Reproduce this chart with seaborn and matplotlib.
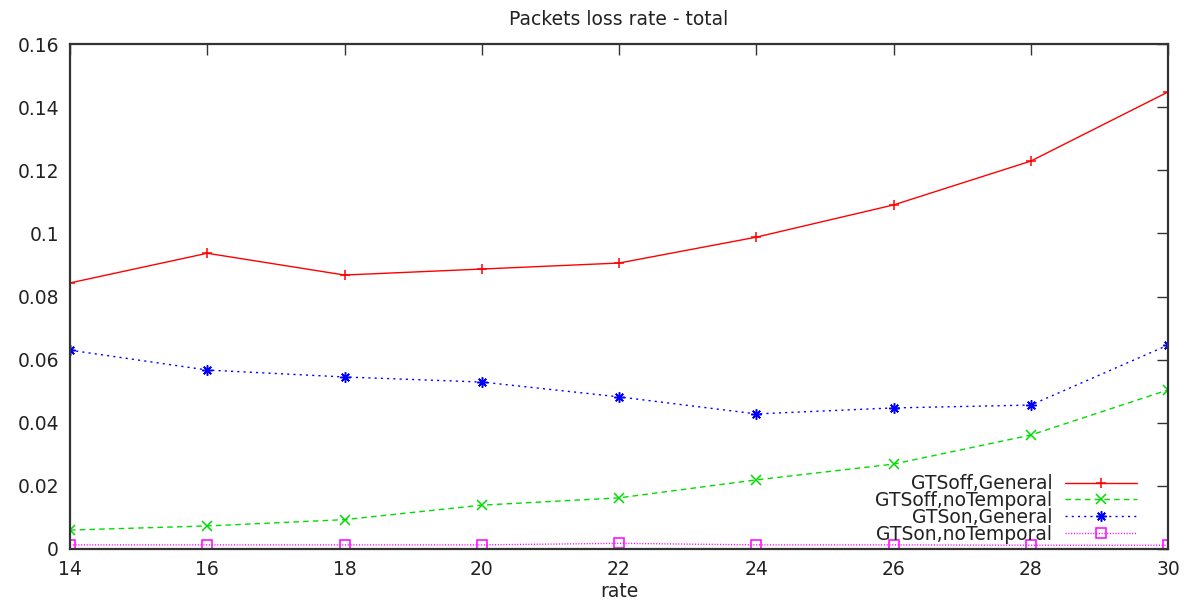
import matplotlib
matplotlib.use("Agg")
import matplotlib.pyplot as plt
import seaborn as sns
import pandas as pd

rate = [14, 16, 18, 20, 22, 24, 26, 28, 30]
gtsoff_general = [0.0843, 0.0937, 0.0868, 0.0887, 0.0906, 0.0988, 0.1090, 0.1229, 0.1448]
gtsoff_notemporal = [0.0060, 0.0073, 0.0093, 0.0139, 0.0162, 0.0219, 0.0269, 0.0361, 0.0504]
gtson_general = [0.0630, 0.0567, 0.0545, 0.0529, 0.0482, 0.0428, 0.0447, 0.0456, 0.0646]
gtson_notemporal = [0.0013, 0.0013, 0.0013, 0.0013, 0.0018, 0.0013, 0.0013, 0.0012, 0.0012]

labels = ["GTSoff,General", "GTSoff,noTemporal", "GTSon,General", "GTSon,noTemporal"]
series = [gtsoff_general, gtsoff_notemporal, gtson_general, gtson_notemporal]
colors = ["#ff0000", "#00dd00", "#0000ff", "#ff00ff"]
dashes = [(None, None), (4, 3), (1.5, 3), (0.8, 1.2)]
markers = ["+", "x", (8, 2, 0), "s"]

sns.set_style("white")
plt.rcParams["font.family"] = ["DejaVu Sans"]

FS = 13.5
TXT = "#222222"

fig = plt.figure(figsize=(11.87, 6.02), dpi=100)
ax = fig.add_axes([70 / 1187, 53 / 602, 1098 / 1187, 505 / 602])

for lab, vals, c, d, m in zip(labels, series, colors, dashes, markers):
    df = pd.DataFrame({"rate": rate, "value": vals})
    kw = dict(marker=m, markersize=7.5, markeredgewidth=1.1, markerfacecolor="none" if m == "s" else c,
              markeredgecolor=c, color=c, linewidth=1.0, label=lab)
    sns.lineplot(data=df, x="rate", y="value", ax=ax, **kw)
    if d[0] is not None:
        ax.lines[-1].set_dashes(d)
    if m == "s":
        ax.lines[-1].set_markersize(7)

ax.set_xlim(14, 30)
ax.set_ylim(0, 0.16)
ax.set_xticks(rate)
ax.set_yticks([0, 0.02, 0.04, 0.06, 0.08, 0.1, 0.12, 0.14, 0.16])
ax.set_yticklabels(["0", "0.02", "0.04", "0.06", "0.08", "0.1", "0.12", "0.14", "0.16"])
ax.tick_params(direction="in", length=8, width=1.0, color="#333333", labelsize=FS,
               labelcolor=TXT, top=True, right=True, pad=8)
for s in ax.spines.values():
    s.set_visible(True)
    s.set_color("#333333")
    s.set_linewidth(1.6)

ax.set_xlabel("rate", fontsize=FS, color=TXT, labelpad=2)
ax.set_ylabel("")
ax.set_title("Packets loss rate - total", fontsize=FS, color=TXT, pad=14)

leg = ax.legend(loc="lower right", frameon=False, markerfirst=False, fontsize=FS,
                handlelength=3.85, labelspacing=-0.12, handletextpad=0.7,
                bbox_to_anchor=(0.979, -0.004), borderaxespad=0)
for t in leg.get_texts():
    t.set_color(TXT)

fig.savefig("out.png", dpi=100, facecolor="white")
